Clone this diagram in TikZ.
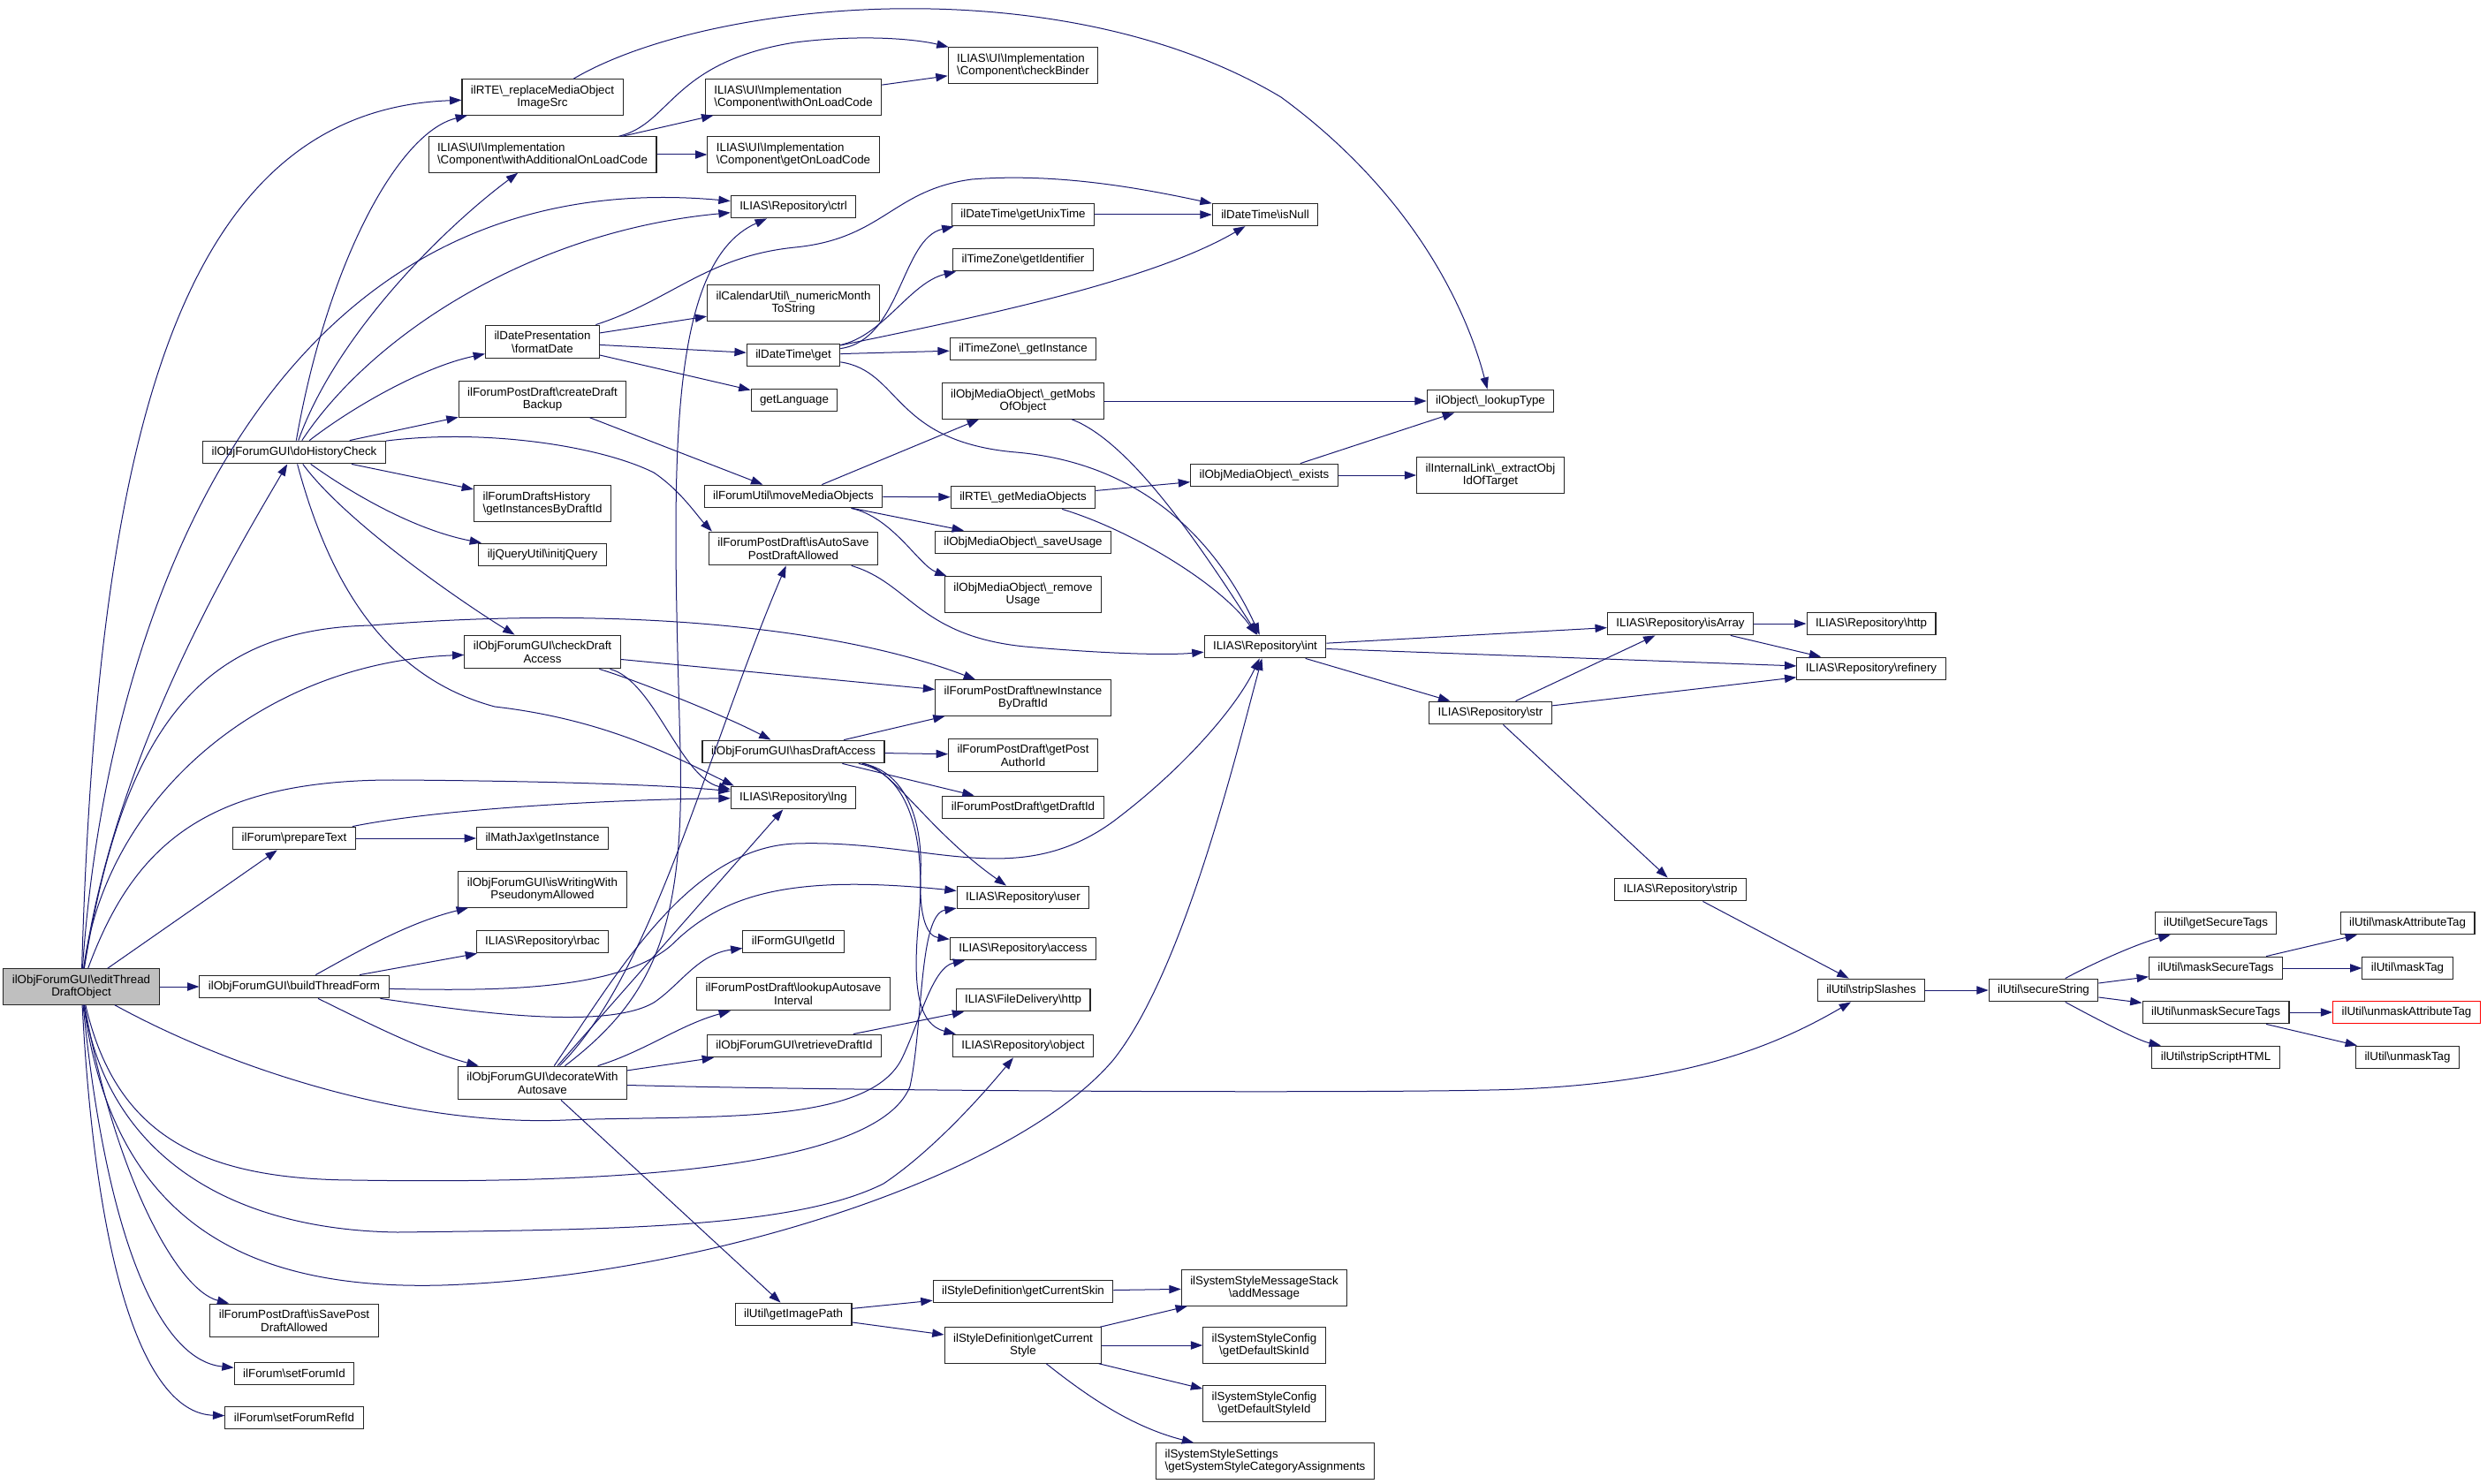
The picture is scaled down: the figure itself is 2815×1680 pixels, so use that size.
\documentclass[tikz,border=0pt]{standalone}
\usepackage{fontspec}
\setmainfont{Liberation Sans}
\usetikzlibrary{arrows.meta}
\definecolor{midnightblue}{HTML}{191970}
\definecolor{grey75}{HTML}{BFBFBF}
\newcommand{\bsl}{\textbackslash}

\begin{document}
\begin{tikzpicture}[x=0.75pt, y=-0.75pt,
  fnbox/.style = {shape=rectangle, draw=black!85, line width=0.8pt,
    fill=white, align=center, inner xsep=7.5pt, inner ysep=5pt,
    minimum height=19pt, font=\fontsize{10}{11}\selectfont},
  rootbox/.style = {fnbox, fill=grey75},
  nodocbox/.style = {fnbox, draw=red},
  leftbox/.style = {fnbox, align=left},
  call/.style = {draw=midnightblue, line width=0.75pt,
    -{Triangle[length=10pt, width=7pt]}}]
  \fill[white] (0,0) rectangle (2815,1680);
  \useasboundingbox (0,0) rectangle (2815,1680);

  \node[rootbox] (root) at (92,1117) {ilObjForumGUI\bsl editThread\\DraftObject};
  \node[fnbox] (rteReplace) at (614,110) {ilRTE\bsl\_replaceMediaObject\\ImageSrc};
  \node[leftbox] (withAddLoad) at (614,175) {ILIAS\bsl UI\bsl Implementation\\\bsl Component\bsl withAdditionalOnLoadCode};
  \node[leftbox] (withLoad) at (898,110) {ILIAS\bsl UI\bsl Implementation\\\bsl Component\bsl withOnLoadCode};
  \node[leftbox] (getLoad) at (898,175) {ILIAS\bsl UI\bsl Implementation\\\bsl Component\bsl getOnLoadCode};
  \node[leftbox] (checkBinder) at (1158,74) {ILIAS\bsl UI\bsl Implementation\\\bsl Component\bsl checkBinder};
  \node[fnbox] (ctrl) at (898,234) {ILIAS\bsl Repository\bsl ctrl};
  \node[fnbox] (unixTime) at (1158,243) {ilDateTime\bsl getUnixTime};
  \node[fnbox] (isNull) at (1432,243) {ilDateTime\bsl isNull};
  \node[fnbox] (tzIdent) at (1158,294) {ilTimeZone\bsl getIdentifier};
  \node[fnbox] (fmtDate) at (614,387) {ilDatePresentation\\\bsl formatDate};
  \node[fnbox] (monthStr) at (898,343) {ilCalendarUtil\bsl\_numericMonth\\ToString};
  \node[fnbox] (dtGet) at (898,402) {ilDateTime\bsl get};
  \node[fnbox] (tzInst) at (1158,395) {ilTimeZone\bsl\_getInstance};
  \node[fnbox] (getLang) at (899,453) {getLanguage};
  \node[fnbox] (draftBackup) at (614,452) {ilForumPostDraft\bsl createDraft\\Backup};
  \node[fnbox] (getMobs) at (1158,454) {ilObjMediaObject\bsl\_getMobs\\OfObject};
  \node[fnbox] (lookupType) at (1687,454) {ilObject\bsl\_lookupType};
  \node[fnbox] (histCheck) at (333,512) {ilObjForumGUI\bsl doHistoryCheck};
  \node[fnbox] (moveMedia) at (898,562) {ilForumUtil\bsl moveMediaObjects};
  \node[fnbox] (rteMedia) at (1158,563) {ilRTE\bsl\_getMediaObjects};
  \node[fnbox] (mobExists) at (1431,538) {ilObjMediaObject\bsl\_exists};
  \node[fnbox] (extractObj) at (1687,538) {ilInternalLink\bsl\_extractObj\\IdOfTarget};
  \node[leftbox] (draftsHist) at (614,570) {ilForumDraftsHistory\\\bsl getInstancesByDraftId};
  \node[fnbox] (saveUsage) at (1158,614) {ilObjMediaObject\bsl\_saveUsage};
  \node[fnbox] (initJQ) at (614,628) {iljQueryUtil\bsl initjQuery};
  \node[fnbox] (autoSaveAllowed) at (898,621) {ilForumPostDraft\bsl isAutoSave\\PostDraftAllowed};
  \node[fnbox] (removeUsage) at (1158,673) {ilObjMediaObject\bsl\_remove\\Usage};
  \node[fnbox] (repInt) at (1432,732) {ILIAS\bsl Repository\bsl int};
  \node[fnbox] (isArray) at (1902,706) {ILIAS\bsl Repository\bsl isArray};
  \node[fnbox] (repHttp) at (2118,706) {ILIAS\bsl Repository\bsl http};
  \node[fnbox] (refinery) at (2118,757) {ILIAS\bsl Repository\bsl refinery};
  \node[fnbox] (checkAccess) at (614,738) {ilObjForumGUI\bsl checkDraft\\Access};
  \node[fnbox] (newInstance) at (1158,790) {ilForumPostDraft\bsl newInstance\\ByDraftId};
  \node[fnbox] (repStr) at (1687,807) {ILIAS\bsl Repository\bsl str};
  \node[fnbox] (hasAccess) at (898,851) {ilObjForumGUI\bsl hasDraftAccess};
  \node[fnbox] (postAuthor) at (1158,855) {ilForumPostDraft\bsl getPost\\AuthorId};
  \node[fnbox] (draftId) at (1158,914) {ilForumPostDraft\bsl getDraftId};
  \node[fnbox] (repLng) at (898,903) {ILIAS\bsl Repository\bsl lng};
  \node[fnbox] (prepText) at (333,949) {ilForum\bsl prepareText};
  \node[fnbox] (mathJax) at (614,949) {ilMathJax\bsl getInstance};
  \node[fnbox] (pseudonym) at (614,1007) {ilObjForumGUI\bsl isWritingWith\\PseudonymAllowed};
  \node[fnbox] (repUser) at (1158,1016) {ILIAS\bsl Repository\bsl user};
  \node[fnbox] (repStrip) at (1902,1007) {ILIAS\bsl Repository\bsl strip};
  \node[fnbox] (repRbac) at (614,1066) {ILIAS\bsl Repository\bsl rbac};
  \node[fnbox] (repAccess) at (1158,1074) {ILIAS\bsl Repository\bsl access};
  \node[fnbox] (buildForm) at (333,1117) {ilObjForumGUI\bsl buildThreadForm};
  \node[fnbox] (formId) at (898,1066) {ilFormGUI\bsl getId};
  \node[fnbox] (autosaveInt) at (898,1125) {ilForumPostDraft\bsl lookupAutosave\\Interval};
  \node[fnbox] (fileHttp) at (1158,1132) {ILIAS\bsl FileDelivery\bsl http};
  \node[fnbox] (retrieveId) at (899,1184) {ilObjForumGUI\bsl retrieveDraftId};
  \node[fnbox] (repObject) at (1158,1184) {ILIAS\bsl Repository\bsl object};
  \node[fnbox] (decorate) at (614,1226) {ilObjForumGUI\bsl decorateWith\\Autosave};
  \node[fnbox] (stripSlashes) at (2118,1121) {ilUtil\bsl stripSlashes};
  \node[fnbox] (secureString) at (2313,1121) {ilUtil\bsl secureString};
  \node[fnbox] (secureTags) at (2508,1045) {ilUtil\bsl getSecureTags};
  \node[fnbox] (maskSecure) at (2508,1096) {ilUtil\bsl maskSecureTags};
  \node[fnbox] (maskAttr) at (2725,1045) {ilUtil\bsl maskAttributeTag};
  \node[fnbox] (maskTag) at (2725,1096) {ilUtil\bsl maskTag};
  \node[fnbox] (unmaskSecure) at (2508,1146) {ilUtil\bsl unmaskSecureTags};
  \node[nodocbox] (unmaskAttr) at (2724,1146) {ilUtil\bsl unmaskAttributeTag};
  \node[fnbox] (stripScript) at (2508,1197) {ilUtil\bsl stripScriptHTML};
  \node[fnbox] (unmaskTag) at (2725,1197) {ilUtil\bsl unmaskTag};
  \node[fnbox] (imagePath) at (898,1488) {ilUtil\bsl getImagePath};
  \node[fnbox] (curSkin) at (1158,1462) {ilStyleDefinition\bsl getCurrentSkin};
  \node[fnbox] (curStyle) at (1158,1523) {ilStyleDefinition\bsl getCurrent\\Style};
  \node[fnbox] (addMessage) at (1431,1458) {ilSystemStyleMessageStack\\\bsl addMessage};
  \node[fnbox] (defSkin) at (1431,1523) {ilSystemStyleConfig\\\bsl getDefaultSkinId};
  \node[fnbox] (defStyle) at (1431,1589) {ilSystemStyleConfig\\\bsl getDefaultStyleId};
  \node[leftbox] (categoryAssign) at (1432,1654) {ilSystemStyleSettings\\\bsl getSystemStyleCategoryAssignments};
  \node[fnbox] (savePostAllowed) at (333,1495) {ilForumPostDraft\bsl isSavePost\\DraftAllowed};
  \node[fnbox] (setForumId) at (333,1555) {ilForum\bsl setForumId};
  \node[fnbox] (setForumRefId) at (333,1605) {ilForum\bsl setForumRefId};

  \draw[call] (root) .. controls (110,500) and (200,125) .. (rteReplace);
  \draw[call] (root) .. controls (120,700) and (300,180) .. (ctrl);
  \draw[call] (root) .. controls (130,850) and (270,620) .. (histCheck);
  \draw[call] (root) .. controls (120,900) and (300,750) .. (checkAccess);
  \draw[call] (root) .. controls (140,820) and (230,712) .. (420,708) .. controls (700,685) and (950,710) .. (newInstance);
  \draw[call] (root) .. controls (150,960) and (230,882) .. (450,883) .. controls (600,884) and (750,888) .. (repLng);
  \draw[call] (root) -- (prepText);
  \draw[call] (root) -- (buildForm);
  \draw[call] (root) .. controls (280,1220) and (480,1275) .. (640,1268) .. controls (800,1262) and (980,1275) .. (1020,1200) .. controls (1040,1160) and (1055,1095) .. (repAccess);
  \draw[call] (root) .. controls (130,1280) and (220,1335) .. (400,1336) .. controls (650,1340) and (990,1330) .. (1030,1230) .. controls (1045,1160) and (1040,1035) .. (repUser);
  \draw[call] (root) .. controls (120,1300) and (250,1392) .. (450,1395) .. controls (700,1392) and (900,1390) .. (1000,1340) .. controls (1060,1300) and (1120,1230) .. (repObject);
  \draw[call] (root) .. controls (130,1400) and (300,1460) .. (500,1455) .. controls (800,1445) and (1150,1330) .. (1260,1200) .. controls (1340,1100) and (1400,850) .. (repInt);
  \draw[call] (root) .. controls (130,1330) and (200,1460) .. (savePostAllowed);
  \draw[call] (root) .. controls (120,1400) and (180,1540) .. (setForumId);
  \draw[call] (root) .. controls (110,1460) and (170,1600) .. (setForumRefId);

  \draw[call] (histCheck) .. controls (370,300) and (450,150) .. (rteReplace);
  \draw[call] (histCheck) .. controls (380,380) and (500,260) .. (withAddLoad);
  \draw[call] (histCheck) .. controls (420,380) and (600,262) .. (ctrl);
  \draw[call] (histCheck) .. controls (400,460) and (480,415) .. (fmtDate);
  \draw[call] (histCheck) -- (draftBackup);
  \draw[call] (histCheck) .. controls (550,485) and (680,505) .. (740,535) .. controls (770,555) and (790,585) .. ([xshift=3pt]autoSaveAllowed.north west);
  \draw[call] (histCheck) -- (draftsHist);
  \draw[call] (histCheck) .. controls (400,560) and (470,600) .. (initJQ);
  \draw[call] (histCheck) .. controls (390,590) and (520,680) .. (checkAccess);
  \draw[call] (histCheck) .. controls (370,650) and (430,765) .. (560,800) .. controls (690,815) and (770,860) .. ([xshift=3pt]repLng.north west);

  \draw[call] (withAddLoad) -- (withLoad);
  \draw[call] (withAddLoad) -- (getLoad);
  \draw[call] (withAddLoad) .. controls (760,140) and (760,70) .. (900,48) .. controls (980,38) and (1040,45) .. (checkBinder);
  \draw[call] (withLoad) -- (checkBinder);
  \draw[call] (rteReplace) .. controls (800,0) and (1200,-40) .. (1450,110) .. controls (1600,220) and (1660,350) .. (lookupType);

  \draw[call] (fmtDate) .. controls (760,340) and (800,290) .. (900,280) .. controls (1000,270) and (1010,215) .. (1100,203) .. controls (1200,195) and (1300,215) .. (isNull);
  \draw[call] (fmtDate) -- (monthStr);
  \draw[call] (fmtDate) -- (dtGet);
  \draw[call] (fmtDate) -- (getLang);

  \draw[call] (dtGet) .. controls (1020,385) and (1020,270) .. ([xshift=2pt]unixTime.south west);
  \draw[call] (dtGet) .. controls (1000,380) and (1030,320) .. ([xshift=3pt]tzIdent.south west);
  \draw[call] (dtGet) .. controls (1100,360) and (1300,320) .. (isNull);
  \draw[call] (dtGet) -- (tzInst);
  \draw[call] (dtGet) .. controls (1020,420) and (1010,500) .. (1150,512) .. controls (1300,525) and (1380,620) .. (repInt);
  \draw[call] (unixTime) -- (isNull);

  \draw[call] (getMobs) -- (lookupType);
  \draw[call] (getMobs) .. controls (1280,500) and (1360,620) .. (repInt);
  \draw[call] (moveMedia) -- (getMobs);
  \draw[call] (moveMedia) -- (rteMedia);
  \draw[call] (moveMedia) -- (saveUsage);
  \draw[call] (moveMedia) .. controls (1010,585) and (1040,640) .. ([xshift=2pt]removeUsage.north west);
  \draw[call] (rteMedia) -- (mobExists);
  \draw[call] (rteMedia) .. controls (1280,600) and (1380,660) .. (repInt);
  \draw[call] (mobExists) -- (lookupType);
  \draw[call] (mobExists) -- (extractObj);
  \draw[call] (draftBackup) -- (moveMedia);
  \draw[call] (autoSaveAllowed) .. controls (1030,660) and (1040,720) .. (1160,732) .. controls (1250,740) and (1320,742) .. (repInt);

  \draw[call] (checkAccess) -- (newInstance);
  \draw[call] (checkAccess) .. controls (740,770) and (770,880) .. ([yshift=-3pt]repLng.north west);
  \draw[call] (checkAccess) .. controls (720,770) and (820,810) .. (hasAccess);
  \draw[call] (hasAccess) -- (newInstance);
  \draw[call] (hasAccess) -- (postAuthor);
  \draw[call] (hasAccess) -- (draftId);
  \draw[call] (hasAccess) .. controls (1010,870) and (1050,940) .. (repUser);
  \draw[call] (hasAccess) .. controls (1020,872) and (1045,920) .. (1042,990) .. controls (1040,1040) and (1050,1060) .. (repAccess);
  \draw[call] (hasAccess) .. controls (1030,875) and (1048,950) .. (1040,1040) .. controls (1032,1120) and (1040,1160) .. ([xshift=3pt]repObject.north west);

  \draw[call] (prepText) -- (mathJax);
  \draw[call] (prepText) .. controls (500,915) and (700,905) .. (repLng);

  \draw[call] (buildForm) .. controls (400,1080) and (460,1045) .. (pseudonym);
  \draw[call] (buildForm) -- (repRbac);
  \draw[call] (buildForm) .. controls (420,1160) and (480,1190) .. (decorate);
  \draw[call] (buildForm) .. controls (560,1122) and (700,1122) .. (760,1070) .. controls (820,1010) and (900,990) .. (repUser);
  \draw[call] (buildForm) .. controls (500,1140) and (680,1170) .. (740,1135) .. controls (770,1115) and (790,1080) .. (formId);

  \draw[call] (decorate) .. controls (730,1190) and (770,1160) .. (autosaveInt);
  \draw[call] (decorate) -- (retrieveId);
  \draw[call] (decorate) -- (imagePath);
  \draw[call] (decorate) .. controls (1000,1236) and (1600,1238) .. (1720,1233) .. controls (1900,1225) and (2000,1190) .. (stripSlashes);
  \draw[call] (decorate) .. controls (740,1130) and (775,1050) .. (770,850) .. controls (762,550) and (750,300) .. (ctrl);
  \draw[call] (decorate) -- (repLng);
  \draw[call] (decorate) .. controls (740,1100) and (800,850) .. (autoSaveAllowed);
  \draw[call] (decorate) .. controls (700,1100) and (780,960) .. (900,955) .. controls (1050,950) and (1150,1010) .. (1260,930) .. controls (1340,870) and (1400,800) .. (repInt);
  \draw[call] (retrieveId) -- (fileHttp);

  \draw[call] (imagePath) -- (curSkin);
  \draw[call] (imagePath) -- (curStyle);
  \draw[call] (curSkin) -- (addMessage);
  \draw[call] (curStyle) -- (addMessage);
  \draw[call] (curStyle) -- (defSkin);
  \draw[call] (curStyle) -- (defStyle);
  \draw[call] (curStyle) .. controls (1230,1580) and (1280,1615) .. (categoryAssign);

  \draw[call] (repInt) -- (isArray);
  \draw[call] (repInt) -- (refinery);
  \draw[call] (repInt) -- (repStr);
  \draw[call] (repStr) -- (isArray);
  \draw[call] (repStr) -- (refinery);
  \draw[call] (repStr) -- (repStrip);
  \draw[call] (isArray) -- (repHttp);
  \draw[call] (isArray) -- (refinery);
  \draw[call] (repStrip) -- (stripSlashes);
  \draw[call] (stripSlashes) -- (secureString);
  \draw[call] (secureString) .. controls (2370,1090) and (2420,1068) .. (secureTags);
  \draw[call] (secureString) -- (maskSecure);
  \draw[call] (secureString) -- (unmaskSecure);
  \draw[call] (secureString) .. controls (2370,1152) and (2420,1178) .. (stripScript);
  \draw[call] (maskSecure) -- (maskAttr);
  \draw[call] (maskSecure) -- (maskTag);
  \draw[call] (unmaskSecure) -- (unmaskAttr);
  \draw[call] (unmaskSecure) -- (unmaskTag);
\end{tikzpicture}
\end{document}
